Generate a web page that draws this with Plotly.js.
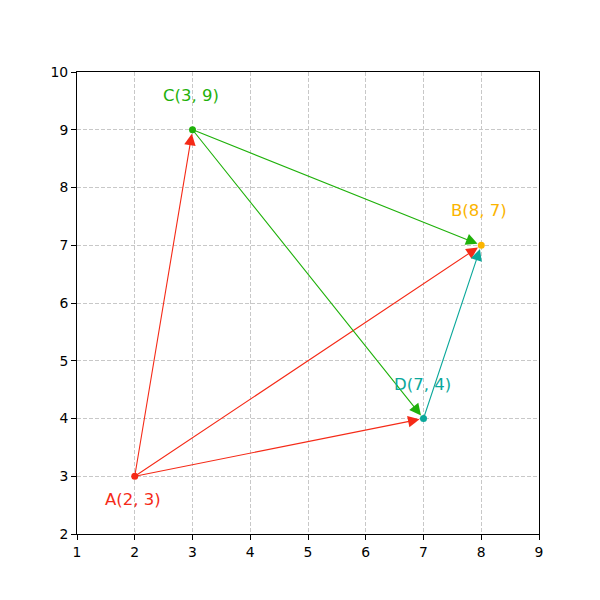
<!DOCTYPE html>
<html>
<head>
<meta charset="utf-8">
<script src="https://cdn.plot.ly/plotly-3.0.1.min.js"></script>
<style>html,body{margin:0;padding:0;background:#fff;}#chart{width:600px;height:600px;}</style>
</head>
<body>
<div id="chart"></div>
<script>
// Data
var pointNames = ['A', 'B', 'C', 'D'];
var pointX = [2, 8, 3, 7];
var pointY = [3, 7, 9, 4];
var edgeFrom = ['A', 'A', 'A', 'C', 'C', 'D'];
var edgeTo   = ['C', 'B', 'D', 'B', 'D', 'B'];
var xTicks = [1, 2, 3, 4, 5, 6, 7, 8, 9];
var yTicks = [2, 3, 4, 5, 6, 7, 8, 9, 10];

// Styles
var colorMap = {A: '#f52a17', B: '#fbb400', C: '#1fb10a', D: '#0ba89b'};
var FONT = 'DejaVu Sans, sans-serif';

function idx(n) { return pointNames.indexOf(n); }

var traces = pointNames.map(function (n, i) {
  return {
    x: [pointX[i]], y: [pointY[i]], type: 'scatter', mode: 'markers',
    marker: {color: colorMap[n], size: 7}, showlegend: false, hoverinfo: 'skip'
  };
});

var annotations = [];
edgeFrom.forEach(function (f, k) {
  var a = idx(f), b = idx(edgeTo[k]);
  annotations.push({
    x: pointX[b], y: pointY[b], ax: pointX[a], ay: pointY[a],
    xref: 'x', yref: 'y', axref: 'x', ayref: 'y',
    showarrow: true, arrowhead: 2, arrowsize: 2.1, arrowwidth: 1.1,
    arrowcolor: colorMap[f], standoff: 4, startstandoff: 0, text: ''
  });
});
pointNames.forEach(function (n, i) {
  var below = (n === 'A');
  annotations.push({
    x: pointX[i] - 0.5, y: pointY[i] + (below ? -0.5 : 0.5),
    xref: 'x', yref: 'y', showarrow: false,
    xanchor: 'left', yanchor: 'bottom',
    text: n + '(' + pointX[i] + ', ' + pointY[i] + ')',
    font: {family: FONT, size: 16.5, color: colorMap[n]},
    xshift: -3, yshift: -6
  });
});

var axisCommon = {
  showline: true, linecolor: '#000', linewidth: 1, mirror: true,
  ticks: 'outside', ticklen: 5, tickwidth: 1, tickcolor: '#000',
  showgrid: true, gridcolor: '#c8c8c8', gridwidth: 1, griddash: '4px,2px',
  zeroline: false, tickfont: {family: FONT, size: 13.9, color: '#000'},
  fixedrange: true
};

var layout = {
  width: 600, height: 600,
  margin: {l: 77, r: 61, t: 72, b: 66},
  paper_bgcolor: '#fff', plot_bgcolor: '#fff',
  xaxis: Object.assign({}, axisCommon, {range: [1, 9], tickvals: xTicks, ticktext: xTicks.map(String)}),
  yaxis: Object.assign({}, axisCommon, {range: [2, 10], tickvals: yTicks, ticktext: yTicks.map(String)}),
  annotations: annotations,
  showlegend: false
};

Plotly.newPlot('chart', traces, layout, {staticPlot: true});
</script>
</body>
</html>
